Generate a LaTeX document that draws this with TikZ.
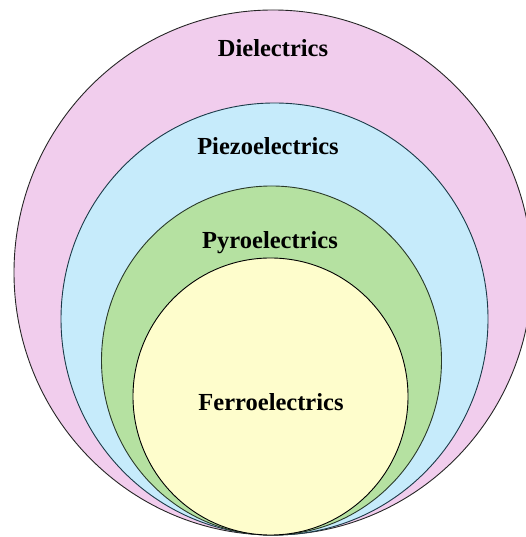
\documentclass[tikz,border=0pt]{standalone}
\usepackage{fontspec}
\setmainfont{Liberation Serif}
\definecolor{dielc}{HTML}{F1CDED}
\definecolor{piezc}{HTML}{C6EBFB}
\definecolor{pyroc}{HTML}{B5E1A1}
\definecolor{ferrc}{HTML}{FEFDCC}
\definecolor{piezline}{HTML}{1B3A48}
\definecolor{pyroline}{HTML}{2A3A2A}
\tikzset{
  ring/.style={line width=0.9pt},
  lbl/.style={font=\fontsize{24.5}{28}\selectfont\bfseries, inner sep=0pt}
}
\begin{document}
\begin{tikzpicture}[x=1pt,y=1pt]
\useasboundingbox (0,0) rectangle (526,537);
\clip (0,0) rectangle (526,537);
\filldraw[ring, fill=dielc, draw=black!85] (273,264.5) ellipse [x radius=259, y radius=262.5];
\filldraw[ring, fill=piezc, draw=piezline] (274.5,218) ellipse [x radius=213.5, y radius=216];
\filldraw[ring, fill=pyroc, draw=pyroline] (271.5,176.5) ellipse [x radius=170, y radius=174.5];
\filldraw[ring, fill=ferrc, draw=black] (270.5,140.5) ellipse [x radius=137.5, y radius=138.5];
\node[lbl] (diel) at (273,489) {Dielectrics};
\node[lbl] (piez) at (268,391) {Piezoelectrics};
\node[lbl] (pyro) at (270,294) {Pyroelectrics};
\node[lbl] (ferr) at (271,135) {Ferroelectrics};
\end{tikzpicture}
\end{document}
